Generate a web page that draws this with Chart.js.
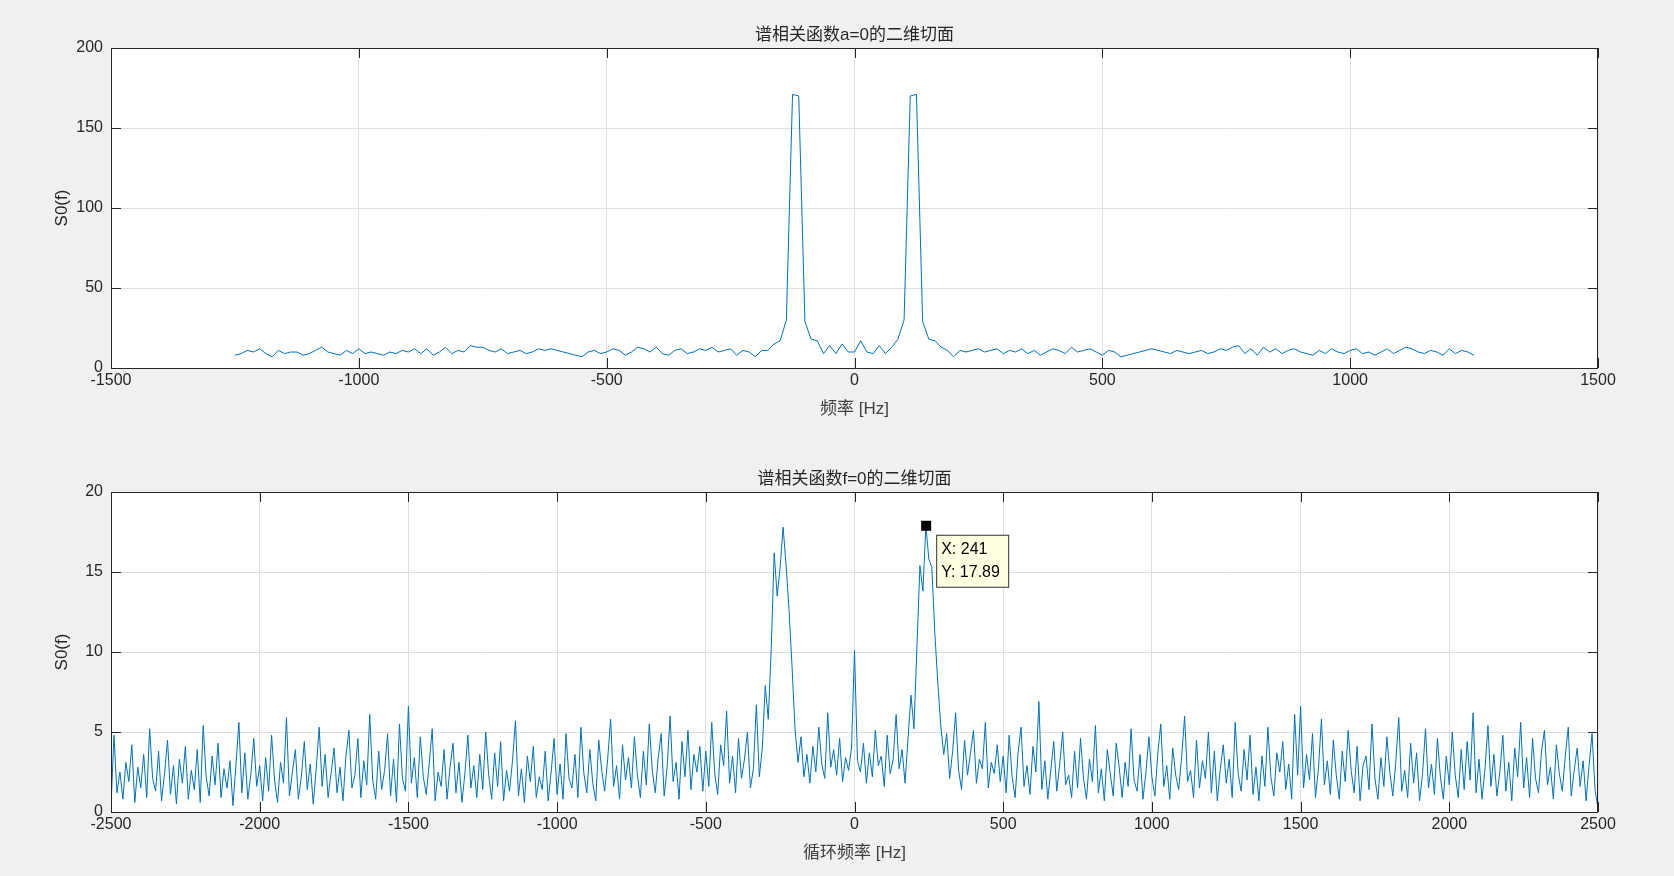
<!DOCTYPE html>
<html>
<head>
<meta charset="utf-8">
<script src="https://cdn.jsdelivr.net/npm/chart.js@4"></script>
<style>
  body { margin: 0; background: #f0f0f0; width: 1674px; height: 876px; overflow: hidden; }
  .box { position: absolute; left: 0; width: 1674px; height: 420px; }
</style>
</head>
<body>
<div class="box" style="top:0"><canvas id="top-chart"></canvas></div>
<div class="box" style="top:444px"><canvas id="bottom-chart"></canvas></div>
<script>
// top subplot: S0(f) for a=0, 12.5 Hz steps from -1250 to 1250
const topStart = -1250, topStep = 12.5;
const topValues = [
    8,9,11,10,12,9,7,11,9,10,10,8,9,11,13,10,9,8,11,9,
    12,9,10,9,8,10,9,11,10,12,9,12,8,10,13,9,11,10,14,13,
    13,11,10,12,9,10,11,9,10,12,11,12,11,10,9,8,7,10,11,9,
    10,12,11,8,10,13,12,10,13,9,8,11,12,9,10,12,11,13,10,11,
    12,8,11,10,7,11,11,15,17,30,171,170,29,18,17,9,14,9,15,10,
    10,17,10,9,14,9,13,18,30,170,171,29,18,17,13,11,7,11,10,11,
    12,10,11,12,9,11,10,12,9,11,8,10,12,11,9,13,10,11,12,10,
    8,11,10,7,8,9,10,11,12,11,10,9,11,10,9,10,11,9,10,12,
    11,13,14,9,12,8,13,10,12,9,11,12,10,9,8,11,9,12,10,9,
    11,12,9,10,8,10,12,9,11,13,12,10,9,11,10,8,12,9,11,10,
    8
];
// bottom subplot: S0(f) for f=0 over cyclic frequency, 10 Hz steps from -2500 to 2500
const botStart = -2500, botStep = 10;
const botValues = [
    0.3,4.8,1.2,2.5,0.8,3.1,1.9,4.2,0.6,2.8,1.5,3.6,0.9,5.2,2.1,1.3,3.8,0.7,2.4,4.5,1.1,2.9,0.5,3.3,1.8,
    4.1,0.8,2.6,1.4,3.9,0.6,5.4,2.2,1.0,3.5,1.7,4.3,0.9,2.7,1.5,3.2,0.4,2.9,5.6,1.2,3.7,0.8,2.3,4.6,1.6,
    2.9,0.7,3.4,1.3,4.8,2.0,0.6,3.1,1.8,5.9,1.0,2.5,3.9,0.8,2.2,4.4,1.4,3.0,0.5,2.7,5.3,1.6,3.6,0.9,2.4,
    4.0,1.2,2.8,0.7,3.5,5.1,1.5,2.3,4.6,0.9,3.2,1.7,6.1,2.0,0.8,3.8,1.4,2.6,4.9,1.0,3.3,0.6,5.5,2.1,1.3,
    6.6,1.8,3.4,0.9,4.7,2.2,1.1,3.0,5.2,0.7,2.5,1.6,3.9,0.8,2.8,4.3,1.2,3.1,0.6,2.4,4.8,1.5,2.9,0.9,3.6,
    1.4,5.0,2.3,0.8,3.7,1.6,4.4,0.7,2.6,1.3,3.2,5.7,1.0,2.7,0.6,3.5,1.9,4.1,0.9,2.2,1.4,3.8,0.7,2.5,4.6,
    1.1,3.0,0.8,4.9,2.1,1.5,3.6,0.9,5.3,2.4,1.2,3.9,1.8,0.7,4.5,2.6,1.3,3.3,5.8,1.6,2.9,0.8,4.2,2.0,3.4,
    1.5,4.7,2.3,0.9,3.8,1.7,5.5,2.6,1.2,3.4,4.9,1.0,2.8,6.0,1.9,3.1,0.8,4.4,2.2,5.1,1.4,3.6,2.5,4.1,1.3,
    3.8,1.6,5.6,2.4,1.1,4.2,2.9,6.3,1.8,3.5,1.2,4.6,2.1,3.3,5.0,1.5,2.7,6.7,2.2,4.0,7.9,5.8,10.2,16.2,13.5,
    15.3,17.8,15.4,12.6,9.1,5.2,3.1,4.7,2.2,3.6,1.8,4.1,2.5,5.3,3.0,2.1,6.2,2.8,3.9,2.3,4.6,1.9,3.4,2.6,4.0,
    10.1,3.2,2.5,4.3,1.8,3.7,2.2,5.1,2.9,3.5,1.6,4.8,2.4,3.3,6.1,2.7,3.9,1.8,4.6,7.3,5.2,10.4,15.4,13.8,17.89,
    15.8,15.3,11.2,8.1,5.4,3.6,4.9,2.1,3.8,6.2,2.6,1.4,4.5,2.3,3.7,5.1,1.8,3.3,2.7,5.6,1.5,3.1,2.4,4.2,1.9,
    3.5,1.2,4.8,2.2,0.9,3.7,5.3,1.6,2.9,1.1,4.1,2.5,6.9,1.4,3.2,0.8,2.6,4.4,1.3,3.0,5.0,1.7,2.3,0.9,3.8,
    1.5,4.6,2.1,0.8,3.3,1.9,5.4,1.2,2.7,0.7,3.9,2.4,1.0,4.3,2.8,0.9,3.1,1.6,5.2,2.0,1.3,3.6,0.8,2.5,4.7,
    2.2,1.0,3.7,5.5,1.6,2.9,0.8,4.0,2.3,1.4,3.4,6.0,1.9,2.6,0.9,4.5,1.5,3.2,2.1,5.0,1.2,3.8,0.7,2.7,4.2,
    1.8,3.3,0.9,5.6,2.4,1.3,3.9,2.0,4.8,1.1,2.8,0.7,3.5,1.6,5.3,2.2,1.0,3.7,2.5,4.4,1.4,3.0,0.8,6.1,2.3,
    6.6,1.5,3.6,2.0,4.9,0.9,2.7,5.8,1.7,3.2,1.1,4.5,2.3,0.8,3.8,1.9,5.1,2.6,1.2,4.1,0.7,2.9,3.5,1.4,5.5,
    2.1,0.8,3.4,1.6,4.7,2.5,1.0,3.1,5.9,1.3,2.6,0.9,4.3,1.8,3.7,0.7,2.4,5.2,1.5,3.0,1.1,4.6,2.2,0.8,3.5,
    1.7,5.0,2.3,0.9,3.9,1.4,4.4,2.0,6.2,1.2,3.3,0.8,2.7,5.4,1.6,3.6,1.0,2.5,4.8,1.3,3.1,0.7,4.0,2.2,5.6,
    1.5,3.4,0.9,4.6,2.1,1.2,3.8,5.1,1.7,2.8,0.8,4.2,2.4,1.3,3.5,5.3,1.0,2.6,4.0,1.6,3.2,0.7,2.9,4.9,1.4,
    0.2
];
const datatip = { x: 241, y: 17.89 };

const FONT = '"Liberation Sans", "Noto Sans CJK SC", sans-serif';
const LINE = '#0072bd';

function to_points(start, step, values) {
    return values.map((v, i) => ({ x: start + i * step, y: v }));
}

// white plot background, full box, inward ticks, title and datatip, MATLAB style
const axesBox = {
    id: 'axesBox',
    beforeDraw(chart) {
        const a = chart.chartArea, ctx = chart.ctx;
        ctx.save();
        ctx.fillStyle = '#ffffff';
        ctx.fillRect(a.left, a.top, a.right - a.left, a.bottom - a.top);
        ctx.restore();
    },
    afterDraw(chart, args, opts) {
        const a = chart.chartArea, ctx = chart.ctx;
        ctx.save();
        ctx.strokeStyle = '#262626';
        ctx.lineWidth = 1;
        ctx.strokeRect(a.left + 0.5, a.top + 0.5, a.right - a.left - 1, a.bottom - a.top);
        const xs = chart.scales.x, ys = chart.scales.y;
        ctx.beginPath();
        xs.ticks.forEach(t => {
            const px = Math.round(xs.getPixelForValue(t.value)) + 0.5;
            ctx.moveTo(px, a.top); ctx.lineTo(px, a.top + 10);
            ctx.moveTo(px, a.bottom); ctx.lineTo(px, a.bottom - 10);
        });
        ys.ticks.forEach(t => {
            const py = Math.round(ys.getPixelForValue(t.value)) + 0.5;
            ctx.moveTo(a.right, py); ctx.lineTo(a.right - 10, py);
            ctx.moveTo(a.left, py); ctx.lineTo(a.left + 10, py);
        });
        ctx.stroke();
        ctx.fillStyle = '#262626';
        ctx.font = '17px ' + FONT;
        ctx.textAlign = 'center';
        ctx.textBaseline = 'bottom';
        ctx.fillText(opts.text, (a.left + a.right) / 2, a.top - 4);
        if (opts.tip) {
            const px = xs.getPixelForValue(opts.tip.x), py = ys.getPixelForValue(opts.tip.y);
            ctx.fillStyle = '#000';
            ctx.fillRect(px - 5, py - 5, 10, 10);
            const bx = px + 10, by = py + 9;
            ctx.fillStyle = '#ffffe1';
            ctx.strokeStyle = '#333';
            ctx.fillRect(bx, by, 72, 52);
            ctx.strokeRect(bx + 0.5, by + 0.5, 72, 52);
            ctx.fillStyle = '#000';
            ctx.textAlign = 'left';
            ctx.textBaseline = 'middle';
            ctx.font = '16px ' + FONT;
            ctx.fillText('X: ' + opts.tip.x, bx + 5, by + 15);
            ctx.fillText('Y: ' + opts.tip.y, bx + 5, by + 38);
        }
        ctx.restore();
    }
};

function make_chart(id, points, xmin, xmax, xstep, ymax, ystep, xlabel, title, tip) {
    return new Chart(document.getElementById(id), {
        type: 'line',
        data: {
            datasets: [{
                data: points,
                borderColor: LINE,
                borderWidth: 1,
                pointRadius: 0,
                tension: 0
            }]
        },
        options: {
            responsive: true,
            maintainAspectRatio: false,
            animation: false,
            layout: { padding: { top: 48, right: 76, left: 48, bottom: 0 } },
            plugins: {
                legend: { display: false },
                tooltip: { enabled: false },
                axesBox: { text: title, tip: tip }
            },
            scales: {
                x: {
                    type: 'linear',
                    min: xmin, max: xmax,
                    ticks: { stepSize: xstep, color: '#262626', font: { family: FONT, size: 16 }, maxRotation: 0,
                             callback: v => String(v) },
                    grid: { color: '#dfdfdf', drawTicks: false },
                    border: { display: false },
                    title: { display: true, text: xlabel, color: '#404040', font: { family: FONT, size: 17 }, padding: 0 },
                    afterFit(s) { s.height = 52; }
                },
                y: {
                    min: 0, max: ymax,
                    ticks: { stepSize: ystep, color: '#262626', font: { family: FONT, size: 16 }, padding: 8,
                             callback: v => String(v) },
                    grid: { color: '#dfdfdf', drawTicks: false },
                    border: { display: false },
                    title: { display: true, text: 'S0(f)', color: '#262626', font: { family: FONT, size: 17 }, padding: 4 },
                    afterFit(s) { s.width = 63; }
                }
            }
        },
        plugins: [axesBox]
    });
}

make_chart('top-chart', to_points(topStart, topStep, topValues), -1500, 1500, 500, 200, 50,
    '频率 [Hz]', '谱相关函数a=0的二维切面', null);
make_chart('bottom-chart', to_points(botStart, botStep, botValues), -2500, 2500, 500, 20, 5,
    '循环频率 [Hz]', '谱相关函数f=0的二维切面', datatip);
</script>
</body>
</html>
